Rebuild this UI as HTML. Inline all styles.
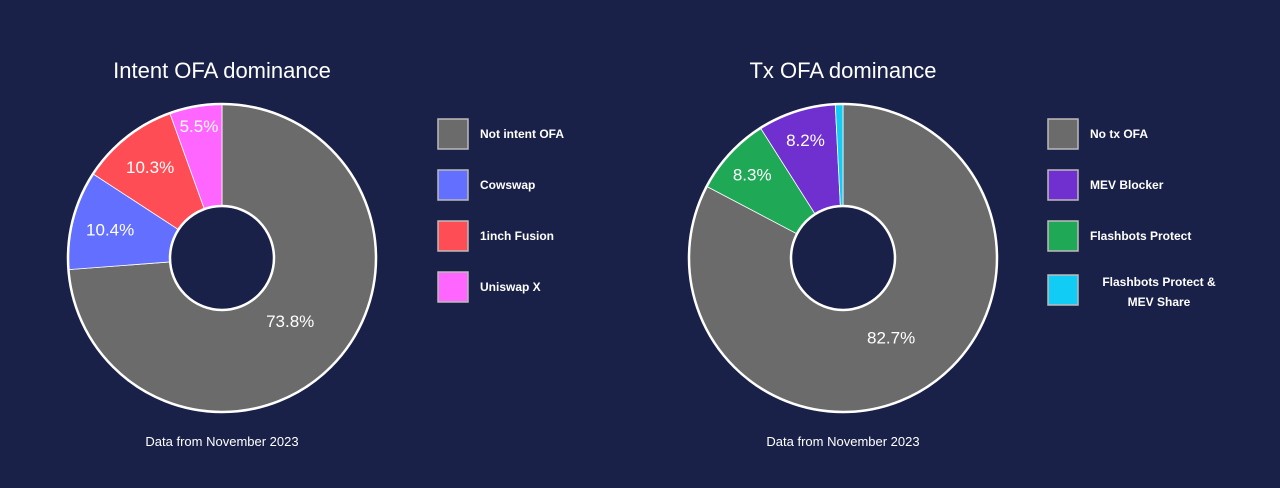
<!DOCTYPE html>
<html><head><meta charset="utf-8"><style>
body{margin:0;width:1280px;height:488px;background:#1a2149;overflow:hidden;font-family:"Liberation Sans",sans-serif}
svg{display:block}
</style></head><body>
<svg width="1280" height="488">
<g id="left"></g>
<g id="right"></g>
</svg>
<script>
const leftLabels=["Not intent OFA","Cowswap","1inch Fusion","Uniswap X"];
const leftValues=[73.8,10.4,10.3,5.5];
const leftColors=["#6b6b6b","#6370ff","#ff4d55","#ff66ff"];
const rightLabels=["No tx OFA","Flashbots Protect","MEV Blocker","Flashbots Protect & MEV Share"];
const rightValues=[82.7,8.3,8.2,0.8];
const rightColors=["#6b6b6b","#1fa855","#7030d0","#11ccf5"];
const rightLegendOrder=[0,2,1,3];
const NS="http://www.w3.org/2000/svg";
function mk(t,a,p){const e=document.createElementNS(NS,t);for(const k in a)e.setAttribute(k,a[k]);p.appendChild(e);return e;}
function draw(g,title,cx,cy,labels,values,colors,order,lx,ly){
 const R=154,r=52,tot=values.reduce((a,b)=>a+b,0);
 const t=mk('text',{x:cx,y:78,'text-anchor':'middle',fill:'#fff','font-size':22},g);t.textContent=title;
 
 
 let a0=0;
 const pt=(a,rad)=>[cx+rad*Math.sin(a),cy-rad*Math.cos(a)];
 values.forEach((v,i)=>{
  const a1=a0+v/tot*2*Math.PI;const [x0,y0]=pt(a0,R),[x1,y1]=pt(a1,R),[x2,y2]=pt(a1,r),[x3,y3]=pt(a0,r);
  const big=(a1-a0)>Math.PI?1:0;
  const p=mk('path',{d:`M${x0},${y0}A${R},${R} 0 ${big} 1 ${x1},${y1}L${x2},${y2}A${r},${r} 0 ${big} 0 ${x3},${y3}Z`,fill:colors[i],stroke:'#fff','stroke-width':0.8},g);
  
  
  if(v>2){const rad=v>50?93:Math.max(100,155-3.8*v);const [tx,ty]=pt((a0+a1)/2,rad);
   const l=mk('text',{x:tx,y:ty+6,'text-anchor':'middle',fill:'#fff','font-size':17},g);l.textContent=v.toFixed(1)+'%';
   
   }
  a0=a1;});
 const ring=mk('circle',{cx,cy,r:R,fill:'none',stroke:'#fff','stroke-width':2.5},g);
 
 
 const ir=mk('circle',{cx,cy,r,fill:'#1a2149',stroke:'#fff','stroke-width':2.5},g);
 
 
 order.forEach((i,k)=>{
  const y=ly+k*51+(k==3&&labels[i].length>20?3:0);
  const s=mk('rect',{x:lx,y,width:30,height:30,fill:colors[i],stroke:'#bbb','stroke-width':1.5},g);
  
  
  if(labels[i].length>20){
   const a=mk('text',{x:lx+111,y:y+11,'text-anchor':'middle',fill:'#fff','font-size':12,'font-weight':'bold'},g);a.textContent='Flashbots Protect &';
   
   
   const b=mk('text',{x:lx+111,y:y+31,'text-anchor':'middle',fill:'#fff','font-size':12,'font-weight':'bold'},g);b.textContent='MEV Share';
   
   
  }else{
   const l=mk('text',{x:lx+42,y:y+19,fill:'#fff','font-size':12,'font-weight':'bold'},g);l.textContent=labels[i];
   
   }
 });
 const n=mk('text',{x:cx,y:446,'text-anchor':'middle',fill:'#fff','font-size':13},g);n.textContent='Data from November 2023';
 
 
}
draw(document.getElementById('left'),'Intent OFA dominance',222,258,leftLabels,leftValues,leftColors,[0,1,2,3],438,119);
draw(document.getElementById('right'),'Tx OFA dominance',843,258,rightLabels,rightValues,rightColors,rightLegendOrder,1048,119);
</script>
</body></html>
